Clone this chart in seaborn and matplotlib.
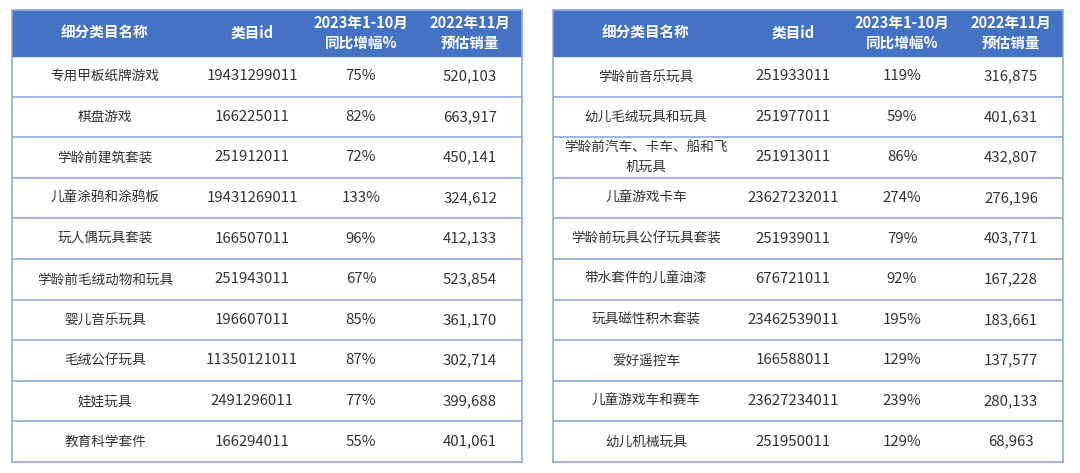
import matplotlib
matplotlib.use("Agg")
import matplotlib.pyplot as plt
import seaborn as sns

# ---- data ----
headers = ["细分类目名称", "类目id", "2023年1-10月\n同比增幅%", "2022年11月\n预估销量"]

left_names = ["专用甲板纸牌游戏", "棋盘游戏", "学龄前建筑套装", "儿童涂鸦和涂鸦板", "玩人偶玩具套装",
              "学龄前毛绒动物和玩具", "婴儿音乐玩具", "毛绒公仔玩具", "娃娃玩具", "教育科学套件"]
left_ids = ["19431299011", "166225011", "251912011", "19431269011", "166507011",
            "251943011", "196607011", "11350121011", "2491296011", "166294011"]
left_growth = [75, 82, 72, 133, 96, 67, 85, 87, 77, 55]
left_sales = [520103, 663917, 450141, 324612, 412133, 523854, 361170, 302714, 399688, 401061]

right_names = ["学龄前音乐玩具", "幼儿毛绒玩具和玩具", "学龄前汽车、卡车、船和飞\n机玩具", "儿童游戏卡车",
               "学龄前玩具公仔玩具套装", "带水套件的儿童油漆", "玩具磁性积木套装", "爱好遥控车",
               "儿童游戏车和赛车", "幼儿机械玩具"]
right_ids = ["251933011", "251977011", "251913011", "23627232011", "251939011",
             "676721011", "23462539011", "166588011", "23627234011", "251950011"]
right_growth = [119, 59, 86, 274, 79, 92, 195, 129, 239, 129]
right_sales = [316875, 401631, 432807, 276196, 403771, 167228, 183661, 137577, 280133, 68963]

# ---- style ----
sns.set_theme(style="white")
plt.rcParams['font.family'] = ['Noto Sans CJK SC', 'DejaVu Sans']

header_color = "#4472C4"
line_color = "#8FAADC"
text_color = "#333333"

W, H = 510, 452          # table size in pixels
header_h = 46
row_h = (H - header_h) / 10
col_x = [93, 240, 349, 458]


def draw_table(ax, names, ids, growth, sales):
    ax.set_xlim(0, W)
    ax.set_ylim(H, 0)
    ax.set_xticks([])
    ax.set_yticks([])
    for s in ax.spines.values():
        s.set_color(line_color)
        s.set_linewidth(1.2)
    ax.axhspan(0, header_h, color=header_color, zorder=1)
    for x, h in zip(col_x, headers):
        ax.text(x, header_h / 2, h, ha="center", va="center", color="white",
                fontsize=10.5, fontweight="bold", linespacing=1.3)
    for i in range(10):
        yc = header_h + (i + 0.5) * row_h
        if i > 0:
            ax.axhline(header_h + i * row_h, color=line_color, lw=1.2)
        ax.text(col_x[0], yc, names[i], ha="center", va="center", color=text_color,
                fontsize=9.8, linespacing=1.45)
        nums = [ids[i], f"{growth[i]}%", f"{sales[i]:,}"]
        for x, t in zip(col_x[1:], nums):
            ax.text(x, yc, t, ha="center", va="center", color=text_color, fontsize=10.8)


fig = plt.figure(figsize=(10.8, 4.73), dpi=100)
fig.patch.set_facecolor("white")
ax1 = fig.add_axes([12 / 1080, 11 / 473, W / 1080, H / 473])
ax2 = fig.add_axes([553 / 1080, 11 / 473, W / 1080, H / 473])
draw_table(ax1, left_names, left_ids, left_growth, left_sales)
draw_table(ax2, right_names, right_ids, right_growth, right_sales)

fig.savefig("out.png", dpi=100, facecolor="white")
